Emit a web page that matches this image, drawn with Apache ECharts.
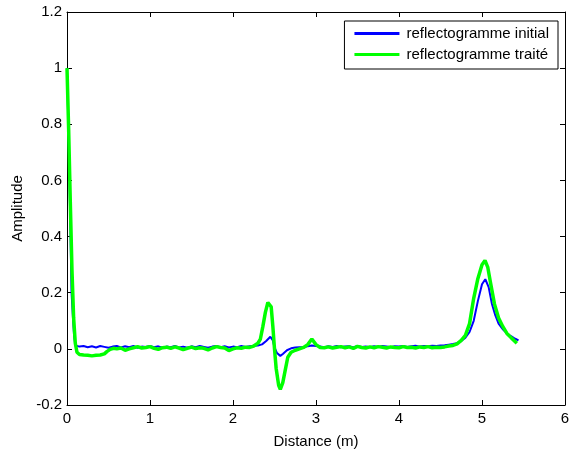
<!DOCTYPE html>
<html><head><meta charset="utf-8">
<script src="https://cdn.jsdelivr.net/npm/echarts@6/dist/echarts.min.js"></script>
<style>html,body{margin:0;padding:0;background:#fff}#c{width:569px;height:450px}</style>
</head><body><div id="c"></div>
<script>
var seriesNames = ['reflectogramme initial', 'reflectogramme traité'];
var xTicks = [0, 1, 2, 3, 4, 5, 6];
var yTicks = [-0.2, 0, 0.2, 0.4, 0.6, 0.8, 1, 1.2];

var xInitial = [0,0.02,0.04,0.055,0.07,0.085,0.1,0.15,0.2,0.25,0.3,0.35,0.4,0.45,0.5,0.55,0.6,0.65,0.7,0.75,0.8,0.85,0.9,0.95,1.0,1.05,1.1,1.15,1.2,1.25,1.3,1.35,1.4,1.45,1.5,1.55,1.6,1.65,1.7,1.75,1.8,1.85,1.9,1.95,2.0,2.05,2.1,2.15,2.2,2.25,2.3,2.35,2.4,2.45,2.48,2.5,2.53,2.57,2.6,2.65,2.7,2.75,2.8,2.85,2.9,2.95,3.0,3.05,3.1,3.15,3.2,3.25,3.3,3.35,3.4,3.45,3.5,3.55,3.6,3.65,3.7,3.75,3.8,3.85,3.9,3.95,4.0,4.05,4.1,4.15,4.2,4.25,4.3,4.35,4.4,4.45,4.5,4.55,4.6,4.65,4.7,4.75,4.8,4.85,4.9,4.95,5.0,5.04,5.08,5.12,5.16,5.2,5.25,5.3,5.35,5.4,5.44];
var yInitial = [1.0,0.75,0.45,0.2,0.12,0.05,0.012,0.008,0.01,0.006,0.009,0.005,0.01,0.007,0.004,0.008,0.01,0.005,0.009,0.006,0.01,0.004,0.008,0.007,0.01,0.006,0.009,0.004,0.008,0.006,0.01,0.005,0.008,0.004,0.009,0.006,0.01,0.007,0.004,0.008,0.01,0.006,0.009,0.005,0.008,0.006,0.01,0.007,0.009,0.011,0.012,0.016,0.028,0.043,0.03,0.005,-0.015,-0.025,-0.018,-0.005,0.002,0.005,0.006,0.007,0.009,0.012,0.01,0.008,0.006,0.009,0.007,0.01,0.006,0.008,0.009,0.005,0.01,0.007,0.008,0.006,0.009,0.007,0.01,0.008,0.006,0.009,0.008,0.01,0.007,0.009,0.011,0.008,0.01,0.009,0.011,0.01,0.012,0.013,0.015,0.017,0.02,0.028,0.04,0.06,0.1,0.17,0.23,0.248,0.22,0.16,0.12,0.09,0.07,0.055,0.045,0.036,0.03];

var xTreated = [0,0.02,0.04,0.06,0.08,0.1,0.12,0.15,0.2,0.25,0.3,0.35,0.4,0.45,0.48,0.52,0.56,0.6,0.65,0.7,0.75,0.8,0.85,0.9,0.95,1.0,1.05,1.1,1.15,1.2,1.25,1.3,1.35,1.4,1.45,1.5,1.55,1.6,1.65,1.7,1.75,1.8,1.85,1.9,1.95,2.0,2.05,2.1,2.15,2.2,2.25,2.3,2.33,2.36,2.39,2.42,2.44,2.46,2.48,2.5,2.52,2.55,2.57,2.6,2.63,2.66,2.7,2.75,2.8,2.85,2.9,2.95,3.0,3.05,3.1,3.15,3.2,3.25,3.3,3.35,3.4,3.45,3.5,3.55,3.6,3.65,3.7,3.75,3.8,3.85,3.9,3.95,4.0,4.05,4.1,4.15,4.2,4.25,4.3,4.35,4.4,4.45,4.5,4.55,4.6,4.65,4.7,4.75,4.8,4.85,4.9,4.95,5.0,5.036,5.07,5.1,5.15,5.2,5.25,5.3,5.35,5.42];
var yTreated = [1.0,0.78,0.52,0.28,0.11,0.02,-0.012,-0.02,-0.022,-0.023,-0.025,-0.023,-0.022,-0.018,-0.01,-0.002,0.002,0.0,0.003,-0.005,0.0,0.004,0.008,0.003,0.005,0.008,0.002,-0.002,0.004,0.006,0.002,0.007,0.003,-0.003,0.002,0.006,0.001,0.004,0.002,-0.004,0.003,0.008,0.005,0.003,-0.006,0.0,0.004,0.002,0.006,0.005,0.01,0.02,0.035,0.08,0.13,0.165,0.172,0.15,0.08,0.0,-0.07,-0.13,-0.144,-0.12,-0.075,-0.03,-0.012,-0.005,0.0,0.005,0.015,0.035,0.015,0.005,0.004,0.007,0.003,0.006,0.008,0.004,0.007,0.002,0.009,0.005,0.003,0.007,0.004,0.008,0.006,0.003,0.007,0.005,0.004,0.008,0.005,0.006,0.003,0.007,0.005,0.008,0.004,0.006,0.005,0.007,0.01,0.012,0.018,0.03,0.048,0.09,0.18,0.25,0.3,0.315,0.29,0.24,0.16,0.11,0.08,0.055,0.04,0.02];

function pairs(xs, ys) { return xs.map(function (x, i) { return [x, ys[i]]; }); }

var font = 'Liberation Sans, Arial, sans-serif';
var fs = 15;
var chart = echarts.init(document.getElementById('c'));
var axisCommon = {
  axisLine: { show: true, onZero: false, lineStyle: { color: '#000', width: 1 } },
  axisTick: { show: true, inside: true, length: 5, lineStyle: { color: '#000' } },
  splitLine: { show: false }
};
chart.setOption({
  animation: false,
  backgroundColor: '#fff',
  grid: { left: 67, top: 12, right: 4, bottom: 45, containLabel: false, outerBoundsMode: 'none' },
  legend: {
    right: 11, top: 21, orient: 'vertical',
    data: seriesNames,
    icon: 'rect', itemWidth: 45, itemHeight: 3, itemGap: 6,
    borderColor: '#000', borderWidth: 1, backgroundColor: '#fff',
    padding: [5, 9, 7, 10],
    textStyle: { fontFamily: font, fontSize: fs, color: '#000', padding: [0, 0, 0, 2] }
  },
  xAxis: [
    Object.assign({ type: 'value', min: xTicks[0], max: xTicks[xTicks.length - 1], interval: 1, position: 'bottom',
      name: 'Distance (m)', nameLocation: 'middle', nameGap: 29,
      nameTextStyle: { fontFamily: font, fontSize: fs, color: '#000' },
      axisLabel: { fontFamily: font, fontSize: fs, color: '#000', margin: 6 } }, axisCommon),
    Object.assign({ type: 'value', min: xTicks[0], max: xTicks[xTicks.length - 1], interval: 1, position: 'top',
      axisLabel: { show: false } }, axisCommon)
  ],
  yAxis: [
    Object.assign({ type: 'value', min: yTicks[0], max: yTicks[yTicks.length - 1], interval: 0.2, position: 'left',
      name: 'Amplitude', nameLocation: 'middle', nameGap: 42, nameRotate: 90,
      nameTextStyle: { fontFamily: font, fontSize: fs, color: '#000' },
      axisLabel: { fontFamily: font, fontSize: fs, color: '#000', margin: 5 } }, axisCommon),
    Object.assign({ type: 'value', min: yTicks[0], max: yTicks[yTicks.length - 1], interval: 0.2, position: 'right',
      axisLabel: { show: false } }, axisCommon)
  ],
  series: [
    { name: seriesNames[0], type: 'line', data: pairs(xInitial, yInitial), showSymbol: false, symbol: 'none',
      lineStyle: { color: '#0000ff', width: 2 }, itemStyle: { color: '#0000ff' }, z: 2 },
    { name: seriesNames[1], type: 'line', data: pairs(xTreated, yTreated), showSymbol: false, symbol: 'none',
      lineStyle: { color: '#00ff00', width: 3.5 }, itemStyle: { color: '#00ff00' }, z: 3 }
  ]
});
</script></body></html>
